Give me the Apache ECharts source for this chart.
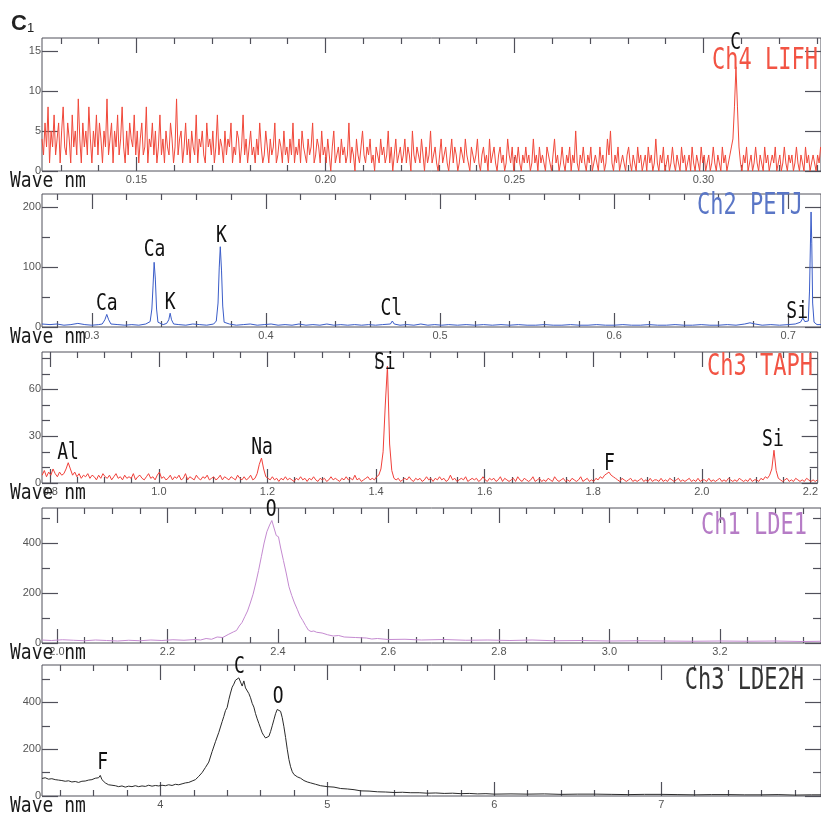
<!DOCTYPE html>
<html><head><meta charset="utf-8">
<script src="https://cdn.jsdelivr.net/npm/echarts@6/dist/echarts.min.js"></script>
<style>html,body{margin:0;padding:0;background:#fff}#c{width:821px;height:819px}</style>
</head><body><div id="c"></div>
<script>
// ---------------- DATA ----------------
// Ch4 LIFH : counts per channel on a channel grid (start/step in nm)
const lifhStart = 0.125, lifhStep = 0.0004;
const lifhCounts = [
4,2,6,3,8,1,5,3,7,2,4,6,1,5,8,3,2,6,4,1,
7,3,5,2,9,4,1,6,3,5,2,8,4,1,5,3,7,2,6,4,
1,5,3,9,2,4,6,1,5,3,7,2,4,8,3,1,5,2,6,4,
3,7,2,5,1,4,6,2,3,8,1,4,3,6,2,5,1,3,7,2,
4,1,5,3,2,6,4,1,3,9,2,4,5,1,3,6,2,4,1,5,
3,2,7,1,4,3,5,2,1,6,3,4,2,5,1,3,7,2,4,3,
1,5,2,4,3,6,1,3,2,5,4,1,3,7,2,4,1,3,5,2,
3,1,4,2,6,3,1,2,5,3,1,4,2,3,6,1,2,4,3,1,
5,2,3,1,4,2,6,1,3,2,4,1,5,3,2,1,4,2,3,6,
1,2,4,3,1,5,2,3,1,4,2,0,3,5,1,2,3,1,4,2,
3,1,2,6,1,3,2,0,4,2,1,3,5,2,1,3,2,4,1,2,
0,3,2,1,4,2,3,1,2,5,1,3,0,2,4,1,2,3,1,2,
4,1,3,2,0,5,2,1,3,2,1,4,2,0,3,1,2,5,1,2,
3,1,0,2,4,1,2,3,1,0,2,4,1,3,2,0,1,3,2,1,
4,2,1,0,3,2,1,2,4,1,0,2,3,1,2,0,4,1,2,3,
1,0,2,3,1,2,0,1,4,2,1,3,0,2,1,3,1,0,2,1,
3,1,2,0,1,4,1,2,0,3,1,2,1,0,3,2,1,0,2,4,
1,2,0,1,3,1,0,2,1,3,0,2,1,5,1,0,2,1,3,1,
0,2,1,3,0,1,2,1,0,3,1,2,0,1,4,2,5,1,0,2,
1,3,0,1,2,1,0,2,3,1,0,2,1,0,3,1,2,0,1,2,
0,3,1,2,0,1,4,1,0,2,1,3,0,1,2,0,1,3,1,0,
2,1,0,3,1,2,0,1,2,0,3,1,0,2,1,0,3,1,2,0,
1,2,0,1,3,1,0,2,1,0,3,1,2,0,1,2,3,4,8,13,
8,3,1,0,2,1,3,0,1,2,0,1,3,1,0,2,1,0,3,1,
2,0,1,2,1,3,0,1,2,0,1,3,1,0,2,1,2,0,1,3,
1,0,2,1,0,3,1,2,0,1,2,1,0,2,1,3
];
// Ch2 PETJ : [wavelength nm, counts]
const petjPoints = [
[0.2714,5],[0.276,4],[0.280,5],[0.284,3],[0.288,4],[0.292,6],[0.296,4],[0.300,3],[0.304,4],
[0.306,5],[0.3075,12],[0.3086,21],[0.3097,12],[0.311,5],
[0.315,4],[0.319,3],[0.323,4],[0.327,3],[0.331,5],
[0.3335,9],[0.3345,30],[0.3352,70],[0.3358,108],[0.3365,80],[0.3372,30],[0.338,8],
[0.341,4],[0.343,6],
[0.3442,12],[0.3450,23],[0.3458,12],[0.347,5],
[0.350,4],[0.354,3],[0.358,5],[0.362,4],[0.366,3],[0.370,5],
[0.3715,10],[0.3725,40],[0.3732,100],[0.3738,134],[0.3745,95],[0.3752,35],[0.376,8],
[0.379,5],[0.383,3],[0.387,4],[0.391,5],[0.395,3],[0.399,4],[0.403,5],[0.407,3],[0.411,4],[0.415,3],[0.419,5],[0.423,3],[0.427,4],[0.431,3],[0.435,5],[0.439,3],[0.443,4],[0.447,3],[0.451,4],[0.455,3],[0.459,4],[0.463,3],[0.467,4],
[0.4715,5],[0.4726,10],[0.4737,5],
[0.477,3],[0.481,4],[0.485,3],[0.489,5],[0.493,3],[0.497,4],[0.501,3],[0.505,4],[0.510,3],[0.515,4],[0.520,3],[0.525,4],[0.530,3],[0.535,4],[0.540,3],[0.545,4],[0.550,3],[0.555,3],[0.560,4],[0.565,3],[0.570,3],[0.575,4],[0.580,3],[0.585,3],[0.590,4],[0.595,3],[0.600,3],[0.605,4],[0.610,3],[0.615,3],[0.620,4],[0.625,3],[0.630,3],[0.635,4],[0.640,3],[0.645,3],[0.650,4],[0.655,3],[0.660,3],[0.665,4],[0.670,3],
[0.675,5],[0.678,7],[0.681,5],
[0.685,3],[0.690,4],[0.695,3],[0.700,4],[0.704,5],
[0.7070,8],[0.7084,15],[0.7095,9],
[0.7115,10],[0.7122,60],[0.7128,150],[0.7131,192],[0.7135,140],[0.7140,40],[0.7148,8],[0.7165,4],[0.7188,4]
];
// Ch3 TAPH : counts per channel on a channel grid
const taphStart = 0.785, taphStep = 0.004;
const taphCounts = [
5,8,4,7,5,9,6,4,7,5,6,9,13,9,5,7,4,6,3,5,
4,6,3,5,4,2,5,3,6,4,3,5,2,4,6,3,4,2,5,3,
4,3,6,2,4,5,3,2,4,6,3,4,2,5,7,3,4,2,3,5,
2,4,3,5,2,3,6,2,4,3,2,5,3,2,4,3,5,2,3,4,
2,3,5,2,4,3,2,4,3,2,5,3,2,4,2,3,5,2,3,6,
12,16,9,4,3,2,4,2,3,1,3,2,4,2,3,2,1,3,2,4,
2,3,1,3,2,4,2,1,3,2,3,1,2,4,2,3,2,1,3,2,
4,2,3,2,5,2,3,1,2,3,4,2,3,2,4,5,9,20,50,75,
25,8,3,2,3,1,2,3,2,4,2,1,3,2,3,1,2,4,2,3,
1,3,2,4,2,3,1,2,5,2,3,1,2,3,2,4,1,2,3,2,
3,1,2,4,2,1,3,2,3,1,2,4,1,3,2,1,2,3,1,4,
2,1,3,2,1,2,4,1,2,3,1,2,1,3,2,1,4,2,1,2,
3,1,2,1,3,2,1,2,4,1,2,3,1,2,1,3,2,4,3,5,
6,7,5,4,3,2,1,3,2,1,2,3,1,2,1,2,3,1,2,1,
3,1,2,2,1,3,1,2,1,3,2,1,2,3,1,2,1,2,3,1,
2,1,3,1,2,2,1,3,1,2,1,2,3,1,2,1,3,2,1,2,
1,3,2,1,2,1,3,1,2,2,1,3,2,4,3,5,9,21,8,3,
2,1,2,3,1,2,1,3,2,1,2,1,3,2,1,2,1,2
];
// Ch1 LDE1 : [wavelength nm, counts]
const lde1Points = [
[1.973,12],[1.99,10],[2.01,13],[2.03,11],[2.05,9],[2.07,12],[2.09,10],[2.11,8],[2.13,11],[2.15,9],[2.17,12],[2.19,10],[2.21,13],[2.23,11],[2.25,14],[2.26,12],[2.27,18],[2.28,15],[2.29,24],[2.30,22],[2.31,34],[2.32,45],[2.325,50],[2.33,68],[2.335,82],[2.34,105],[2.345,128],[2.35,160],[2.355,195],[2.36,240],[2.365,290],[2.37,345],[2.375,400],[2.38,445],[2.385,472],[2.389,490],[2.393,460],[2.397,430],[2.401,425],[2.405,380],[2.41,330],[2.415,280],[2.42,225],[2.425,190],[2.43,160],[2.435,135],[2.44,108],[2.445,90],[2.45,70],[2.455,52],[2.46,46],[2.465,48],[2.47,43],[2.48,40],[2.49,33],[2.50,28],[2.51,30],[2.52,24],[2.54,22],[2.56,20],[2.57,16],[2.58,18],[2.60,14],[2.63,15],[2.66,12],[2.70,14],[2.74,11],[2.78,12],[2.82,10],[2.86,12],[2.90,9],[2.95,10],[3.00,8],[3.05,9],[3.10,8],[3.15,7],[3.20,8],[3.25,7],[3.30,8],[3.35,6],[3.383,7]
];
// Ch3 LDE2H : [wavelength nm, counts]
const lde2hPoints = [
[3.291,75],[3.31,78],[3.33,72],[3.35,74],[3.37,70],[3.39,68],[3.41,66],[3.43,63],[3.45,65],[3.47,60],[3.49,62],[3.51,58],[3.53,63],[3.55,64],[3.57,68],[3.59,70],[3.61,76],[3.62,84],[3.63,78],[3.64,88],[3.65,70],[3.67,56],[3.69,48],[3.71,46],[3.73,44],[3.75,40],[3.77,43],[3.79,38],[3.81,42],[3.83,40],[3.85,44],[3.87,40],[3.89,43],[3.91,41],[3.93,46],[3.95,42],[3.97,45],[3.99,43],[4.01,46],[4.03,44],[4.05,48],[4.07,45],[4.09,50],[4.11,48],[4.13,52],[4.15,56],[4.17,58],[4.19,64],[4.21,70],[4.23,84],[4.25,100],[4.27,122],[4.29,145],[4.31,190],[4.33,232],[4.35,272],[4.37,318],[4.38,340],[4.39,365],[4.40,378],[4.41,412],[4.42,440],[4.43,465],[4.44,478],[4.45,495],[4.46,488],[4.47,505],[4.48,498],[4.49,470],[4.50,492],[4.51,462],[4.52,455],[4.53,438],[4.54,420],[4.55,396],[4.56,380],[4.57,352],[4.58,330],[4.59,310],[4.60,290],[4.61,270],[4.62,258],[4.63,248],[4.64,240],[4.65,255],[4.66,275],[4.67,300],[4.68,326],[4.69,352],[4.70,370],[4.71,376],[4.72,362],[4.73,335],[4.74,296],[4.75,250],[4.76,200],[4.77,156],[4.78,125],[4.79,104],[4.80,92],[4.82,82],[4.84,76],[4.86,66],[4.88,60],[4.90,56],[4.93,50],[4.96,44],[5.00,40],[5.04,38],[5.08,32],[5.12,30],[5.16,27],[5.20,22],[5.25,21],[5.30,18],[5.35,17],[5.40,15],[5.45,16],[5.50,14],[5.55,14],[5.60,12],[5.65,13],[5.70,11],[5.75,12],[5.80,10],[5.85,11],[5.90,9],[5.95,10],[6.00,8],[6.10,9],[6.20,8],[6.30,9],[6.40,7],[6.50,8],[6.60,8],[6.70,7],[6.80,6],[6.90,7],[7.00,7],[7.10,6],[7.20,5],[7.30,6],[7.40,6],[7.50,5],[7.60,5],[7.70,6],[7.80,4],[7.90,5],[7.957,5]
];

// tick values / labels
const p1XMajor = [0.15,0.20,0.25,0.30], p1XLabels = ['0.15','0.20','0.25','0.30'];
const p1XMinor = [0.13,0.14,0.16,0.17,0.18,0.19,0.21,0.22,0.23,0.24,0.26,0.27,0.28,0.29,0.31,0.32,0.33];
const p1YMajor = [0,5,10,15], p1YLabels = ['0','5','10','15'], p1YMinor = [];
const p2XMajor = [0.3,0.4,0.5,0.6,0.7], p2XLabels = ['0.3','0.4','0.5','0.6','0.7'];
const p2XMinor = [0.28,0.32,0.34,0.36,0.38,0.42,0.44,0.46,0.48,0.52,0.54,0.56,0.58,0.62,0.64,0.66,0.68];
const p2YMajor = [0,100,200], p2YLabels = ['0','100','200'], p2YMinor = [50,150];
const p3XMajor = [0.8,1.0,1.2,1.4,1.6,1.8,2.0,2.2], p3XLabels = ['0.8','1.0','1.2','1.4','1.6','1.8','2.0','2.2'];
const p3XMinor = [0.85,0.9,0.95,1.05,1.1,1.15,1.25,1.3,1.35,1.45,1.5,1.55,1.65,1.7,1.75,1.85,1.9,1.95,2.05,2.1,2.15];
const p3YMajor = [0,30,60], p3YLabels = ['0','30','60'], p3YMinor = [10,20,40,50,70,80];
const p4XMajor = [2.0,2.2,2.4,2.6,2.8,3.0,3.2], p4XLabels = ['2.0','2.2','2.4','2.6','2.8','3.0','3.2'];
const p4XMinor = [2.05,2.1,2.15,2.25,2.3,2.35,2.45,2.5,2.55,2.65,2.7,2.75,2.85,2.9,2.95,3.05,3.1,3.15,3.25,3.3,3.35];
const p4YMajor = [0,200,400], p4YLabels = ['0','200','400'], p4YMinor = [100,300,500];
const p5XMajor = [4,5,6,7], p5XLabels = ['4','5','6','7'];
const p5XMinor = [3.4,3.6,3.8,4.2,4.4,4.6,4.8,5.2,5.4,5.6,5.8,6.2,6.4,6.6,6.8,7.2,7.4,7.6,7.8];
const p5YMajor = [0,200,400], p5YLabels = ['0','200','400'], p5YMinor = [100,300,500];

const titles = ['Ch4 LIFH','Ch2 PETJ','Ch3 TAPH','Ch1 LDE1','Ch3 LDE2H'];
// peak labels: [text, panel, wavelength, label-bottom value]
const peakLabels = [
['C',0,0.3085,15.0],
['Ca',1,0.3086,25],['Ca',1,0.336,114.5],['K',1,0.345,27],['K',1,0.3745,138],['Cl',1,0.472,16.7],['Si',1,0.7051,11.7],
['Al',2,0.8326,14],['Na',2,1.19,17.2],['Si',2,1.416,71.7],['F',2,1.830,7.2],['Si',2,2.131,22.3],
['O',3,2.388,499],
['C',4,4.474,519],['O',4,4.706,390],['F',4,3.654,107]
];

// ---------------- CHART ----------------
const lifhData = lifhCounts.map((v,i)=>[lifhStart + i*lifhStep, v]);
const taphData = taphCounts.map((v,i)=>[taphStart + i*taphStep, v]);
const panels = [
 {top:38,height:133,xmin:0.125,xmax:0.3311,ymax:16.6,xM:p1XMajor,xL:p1XLabels,xm:p1XMinor,yM:p1YMajor,yL:p1YLabels,ym:p1YMinor,data:lifhData,color:'#f0483a',tc:'#f25444',tx:818,ty:72},
 {top:194,height:133,xmin:0.2714,xmax:0.7188,ymax:222,xM:p2XMajor,xL:p2XLabels,xm:p2XMinor,yM:p2YMajor,yL:p2YLabels,ym:p2YMinor,data:petjPoints,color:'#3a5cc8',tc:'#5a76c6',tx:803,ty:216.5},
 {top:352,height:131,xmin:0.7847,xmax:2.2135,ymax:84,xM:p3XMajor,xL:p3XLabels,xm:p3XMinor,yM:p3YMajor,yL:p3YLabels,ym:p3YMinor,data:taphData,color:'#f0403a',tc:'#f25444',tx:813,ty:378},
 {top:508,height:135,xmin:1.973,xmax:3.383,ymax:540,xM:p4XMajor,xL:p4XLabels,xm:p4XMinor,yM:p4YMajor,yL:p4YLabels,ym:p4YMinor,data:lde1Points,color:'#c48ad0',tc:'#b67cc6',tx:807,ty:537},
 {top:665,height:131,xmin:3.291,xmax:7.957,ymax:560,xM:p5XMajor,xL:p5XLabels,xm:p5XMinor,yM:p5YMajor,yL:p5YLabels,ym:p5YMinor,data:lde2hPoints,color:'#2a2a2a',tc:'#333333',tx:804,ty:692}
];
const frameColor = '#50505a';
const labFont = {fontSize:11, color:'#555', fontFamily:'"Liberation Sans", Arial, sans-serif'};
const mono = '"DejaVu Sans Mono", "Liberation Mono", monospace';

function lookup(vals, labs){ return v => { const i = vals.findIndex(m => Math.abs(m-v) < 1e-9); return i>=0 ? labs[i] : ''; }; }

const grids=[], xAxes=[], yAxes=[], series=[];
panels.forEach((p, gi) => {
  grids.push({left:42, width:783, top:p.top, height:p.height, show:true, borderColor:frameColor, borderWidth:1, backgroundColor:'transparent'});
  const xBase = {type:'value', gridIndex:gi, min:p.xmin, max:p.xmax, axisLine:{show:false,onZero:false}, splitLine:{show:false}};
  const yBase = {type:'value', gridIndex:gi, min:0, max:p.ymax, axisLine:{show:false,onZero:false}, splitLine:{show:false}};
  const tk = (vals, len) => ({show: vals.length>0, inside:true, length:len, customValues: vals, lineStyle:{color:frameColor, width:1.2}});
  xAxes.push(Object.assign({}, xBase, {position:'bottom', axisTick:tk(p.xM,14), axisLabel:Object.assign({show:true, margin:3, customValues:p.xM, formatter:lookup(p.xM,p.xL), hideOverlap:false}, labFont)}));
  xAxes.push(Object.assign({}, xBase, {position:'bottom', axisTick:tk(p.xm,6), axisLabel:{show:false}}));
  xAxes.push(Object.assign({}, xBase, {position:'top', axisTick:tk(p.xM,15), axisLabel:{show:false}}));
  xAxes.push(Object.assign({}, xBase, {position:'top', axisTick:tk(p.xm,6), axisLabel:{show:false}}));
  yAxes.push(Object.assign({}, yBase, {position:'left', axisTick:tk(p.yM,16), axisLabel:Object.assign({show:true, margin:1, customValues:p.yM, formatter:lookup(p.yM,p.yL), hideOverlap:false}, labFont)}));
  yAxes.push(Object.assign({}, yBase, {position:'left', axisTick:tk(p.ym,8), axisLabel:{show:false}}));
  yAxes.push(Object.assign({}, yBase, {position:'right', axisTick:tk(p.yM,16), axisLabel:{show:false}}));
  yAxes.push(Object.assign({}, yBase, {position:'right', axisTick:tk(p.ym,8), axisLabel:{show:false}}));
  series.push({type:'line', name:titles[gi], xAxisIndex:gi*4, yAxisIndex:gi*4, data:p.data, showSymbol:false, symbol:'none', silent:true, clip:true,
    lineStyle:{width:1, color:p.color}, itemStyle:{color:p.color}});
});

const chart = echarts.init(document.getElementById('c'), null, {renderer:'canvas'});
chart.setOption({animation:false, backgroundColor:'#fff', grid:grids, xAxis:xAxes, yAxis:yAxes, series:series});

const g = [];
// figure tag
g.push({type:'text', x:11, y:35, z:100, style:{text:'C', font:'bold 22px "Liberation Sans", Arial, sans-serif', fill:'#222', align:'left', verticalAlign:'bottom'}});
g.push({type:'text', x:27, y:35, z:100, style:{text:'1', font:'13px "Liberation Sans", Arial, sans-serif', fill:'#222', align:'left', verticalAlign:'bottom'}});
panels.forEach((p, gi) => {
  const ts = 1.35, fs = 22;
  g.push({type:'text', x:p.tx, y:p.ty + 0.15*fs*ts, scaleY:ts, z:100, style:{text:titles[gi], font:fs+'px '+mono, fill:p.tc, align:'right', verticalAlign:'bottom'}});
  const ws = 1.2, wf = 18;
  g.push({type:'text', x:10, y:p.top + p.height + 18 + 0.15*wf*ws, scaleY:ws, z:100, style:{text:'Wave nm', font:wf+'px '+mono, fill:'#1a1a1a', align:'left', verticalAlign:'bottom'}});
});
peakLabels.forEach(([t, pi, xv, yv]) => {
  const pt = chart.convertToPixel({seriesIndex:pi}, [xv, yv]);
  const s = 1.25, f = 18;
  g.push({type:'text', x:pt[0], y:pt[1] + 0.15*f*s, scaleY:s, z:100, style:{text:t, font:f+'px '+mono, fill:'#111', align:'center', verticalAlign:'bottom'}});
});
chart.setOption({graphic:g});
</script></body></html>
